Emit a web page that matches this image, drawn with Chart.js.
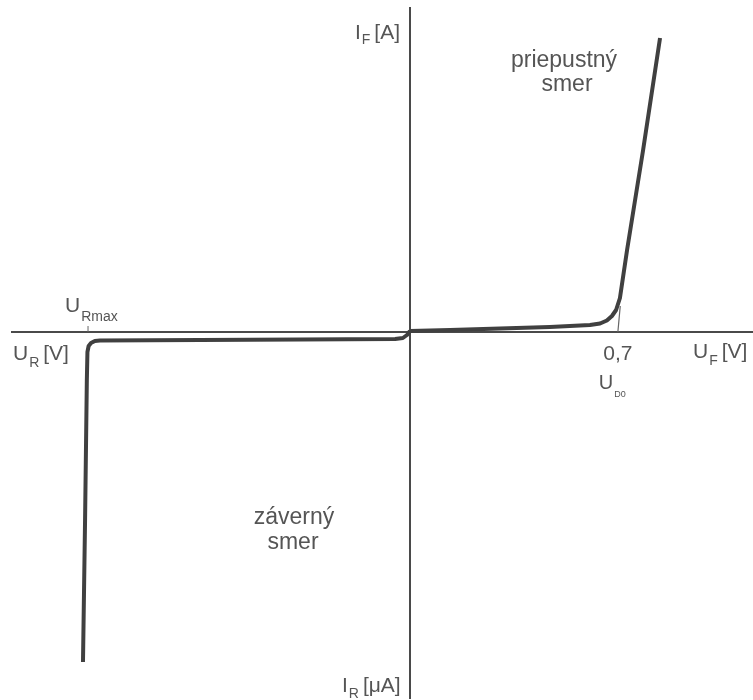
<!DOCTYPE html>
<html>
<head>
<meta charset="utf-8">
<script src="https://cdn.jsdelivr.net/npm/chart.js@4"></script>
<style>
  html, body { margin: 0; padding: 0; background: #fff; }
  #wrap { width: 753px; height: 700px; position: relative; }
</style>
</head>
<body>
<div id="wrap"><canvas id="diode-chart"></canvas></div>
<script>
// forward branch: U_F [V], I_F [A]
const forwardU = [0, 0.135, 0.303, 0.471, 0.606, 0.640, 0.663, 0.680, 0.694, 0.707, 0.731, 0.785, 0.842];
const forwardI = [0.01, 0.02, 0.035, 0.05, 0.07, 0.085, 0.115, 0.16, 0.22, 0.34, 0.82, 1.82, 2.94];

// reverse branch (drawn on the same sheet, other units)
const reverseU = [0, -0.010, -0.024, -0.05, -0.370, -0.707, -1.044, -1.061, -1.074, -1.082, -1.086, -1.088, -1.094, -1.101];
const reverseI = [0.01, -0.03, -0.06, -0.07, -0.075, -0.08, -0.085, -0.09, -0.11, -0.14, -0.20, -0.48, -1.88, -3.30];

// threshold voltage U_D0 and its tangent, U_Rmax marker
const thresholdU = 0.7;
const tangentU = [0.7, 0.708];
const tangentI = [0, 0.26];
const rmaxU = [-1.084, -1.084];
const rmaxI = [0, 0.06];
const xTickLabels = ['0,7'];

const toPoints = (xs, ys) => xs.map((x, i) => ({ x: x, y: ys[i] }));

const textColor = '#555';
const fontFamily = '"Liberation Sans", Arial, sans-serif';

// text with a subscript: main, sub, rest
function subText(ctx, main, sub, rest, x, y, size, subSize, subDrop) {
    ctx.font = size + 'px ' + fontFamily;
    ctx.fillText(main, x, y);
    x += ctx.measureText(main).width + 1;
    ctx.font = subSize + 'px ' + fontFamily;
    ctx.fillText(sub, x, y + subDrop);
    x += ctx.measureText(sub).width;
    if (rest) {
        ctx.font = size + 'px ' + fontFamily;
        ctx.fillText(rest, x + 4, y);
    }
}

const labelPlugin = {
    id: 'labels',
    afterDraw(chart) {
        const ctx = chart.ctx;
        const xs = chart.scales.x;
        const ys = chart.scales.y;
        const ox = xs.getPixelForValue(0);
        const oy = ys.getPixelForValue(0);
        ctx.save();
        ctx.fillStyle = textColor;
        ctx.textBaseline = 'alphabetic';
        ctx.textAlign = 'left';

        // axis titles
        subText(ctx, 'I', 'F', '[A]', ox - 55, 39, 21, 14, 5);
        subText(ctx, 'I', 'R', '[\u03bcA]', ox - 68, oy + 360, 21, 14, 6);
        subText(ctx, 'U', 'R', '[V]', 13, oy + 28, 21, 14, 7);
        subText(ctx, 'U', 'F', '[V]', 693, oy + 26, 21, 14, 7);
        subText(ctx, 'U', 'Rmax', null, xs.getPixelForValue(rmaxU[0]) - 23, oy - 20, 21, 14, 9);
        subText(ctx, 'U', 'D0', null, xs.getPixelForValue(thresholdU) - 19, oy + 57, 20, 9, 8);

        // regions
        ctx.textAlign = 'center';
        ctx.font = '23px ' + fontFamily;
        ctx.fillText('priepustný', 564, 67);
        ctx.fillText('smer', 567, 91);
        ctx.fillText('záverný', 294, 524);
        ctx.fillText('smer', 293, 549);
        ctx.restore();
    }
};

const chart = new Chart(document.getElementById('diode-chart').getContext('2d'), {
    type: 'scatter',
    data: {
        datasets: [
            {
                label: 'forward',
                data: toPoints(forwardU, forwardI),
                showLine: true,
                borderColor: '#404040',
                borderWidth: 4,
                pointRadius: 0,
                tension: 0,
                borderJoinStyle: 'round'
            },
            {
                label: 'reverse',
                data: toPoints(reverseU, reverseI),
                showLine: true,
                borderColor: '#404040',
                borderWidth: 4,
                pointRadius: 0,
                tension: 0,
                borderJoinStyle: 'round'
            },
            {
                label: 'tangent',
                data: toPoints(tangentU, tangentI),
                showLine: true,
                borderColor: '#666',
                borderWidth: 1.2,
                pointRadius: 0
            },
            {
                label: 'Rmax',
                data: toPoints(rmaxU, rmaxI),
                showLine: true,
                borderColor: '#666',
                borderWidth: 1,
                pointRadius: 0
            }
        ]
    },
    options: {
        responsive: true,
        maintainAspectRatio: false,
        animation: false,
        layout: { padding: { left: 12, top: 8, right: 0, bottom: 2 } },
        plugins: {
            legend: { display: false },
            tooltip: { enabled: false }
        },
        scales: {
            x: {
                type: 'linear',
                min: -1.34,
                max: 1.155,
                position: { y: 0 },
                grid: { display: false },
                border: { color: '#4a4a4a', width: 2 },
                afterBuildTicks: (scale) => { scale.ticks = [{ value: thresholdU }]; },
                ticks: {
                    color: textColor,
                    font: { size: 21, family: fontFamily },
                    padding: 2,
                    callback: () => xTickLabels[0]
                }
            },
            y: {
                type: 'linear',
                min: -3.66,
                max: 3.24,
                position: { x: 0 },
                grid: { display: false },
                border: { color: '#4a4a4a', width: 2 },
                ticks: { display: false }
            }
        }
    },
    plugins: [labelPlugin]
});
</script>
</body>
</html>
